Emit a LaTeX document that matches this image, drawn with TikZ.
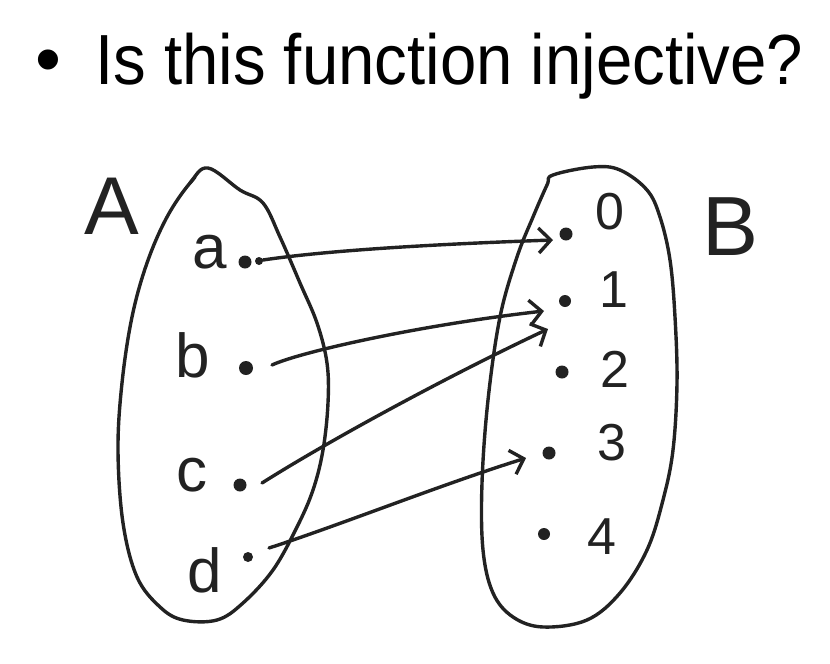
\documentclass[tikz,border=0pt]{standalone}
\usepackage{fontspec}
\setmainfont{Liberation Sans}
\usetikzlibrary{arrows.meta}
\definecolor{ink}{HTML}{222222}
\tikzset{
  ink line/.style={draw=ink, line width=3.4pt, line cap=round, line join=round},
  dotmark/.style={circle, fill=ink, inner sep=0pt, minimum size=#1},
  dotmark/.default=12pt,
  lbl/.style={text=ink, inner sep=0pt, font=\fontsize{#1}{#1}\selectfont},
  maparrow/.style={ink line, -{Straight Barb[length=12pt,width=25pt,line width=3.4pt]}},
}
\begin{document}
\begin{tikzpicture}[x=1pt,y=-1pt]
\useasboundingbox (0,0) rectangle (830,664);
% title
\node[anchor=base west, inner sep=0pt, font=\fontsize{74}{80}\selectfont] (bullet) at (35,84) {•};
\node[anchor=base west, inner sep=0pt, font=\fontsize{71}{80}\selectfont] (title) at (95,84)
  {\scalebox{0.92}[1]{Is this function injective?}};

% left set
\draw[ink line] plot[smooth cycle, tension=0.6] coordinates {
 (208,168) (240,190) (263,203) (280,237) (300,283) (317,323) (327,363) (328,403)
 (323,450) (313,490) (297,527) (273,570) (243,603) (217,620) (183,620) (160,607)
 (137,577) (123,523) (118,450) (122,383) (132,317) (147,263) (167,217) (190,183)};
\draw[ink line] (190,183) -- (195,177);
% right set
\draw[ink line] plot[smooth cycle, tension=0.6] coordinates {
 (553,175) (593,167) (620,170) (647,190) (660,217) (670,260) (675,317) (677,383)
 (673,450) (663,500) (647,550) (620,593) (587,620) (543,627) (513,617) (493,593)
 (483,550) (482,483) (488,400) (500,317) (517,257) (533,217) (547,185)};

% set names
\node[lbl=82] (A) at (112,206) {A};
\node[lbl=84] (B) at (731,227) {B};

% left elements
\node[lbl=62] (la) at (210,252) {a};
\node[lbl=62] (lb) at (193,355) {b};
\node[lbl=62] (lc) at (192,475) {c};
\node[lbl=62] (ld) at (205,570) {d};
\node[dotmark=13pt] (da) at (245,262) {};
\node[dotmark=8pt] (da2) at (259,261) {};
\node[dotmark=14pt] (db) at (246,368) {};
\node[dotmark=13pt] (dc) at (240,485) {};
\node[dotmark=10pt] (dd) at (248,557) {};

% right elements
\node[dotmark=13pt] (d0) at (566,234) {};
\node[dotmark=12pt] (d1) at (565,301) {};
\node[dotmark=13pt] (d2) at (562,372) {};
\node[dotmark=13pt] (d3) at (549,453) {};
\node[dotmark=12pt] (d4) at (544,534) {};
\node[lbl=52] (l0) at (610,212) {0};
\node[lbl=52] (l1) at (614,290) {1};
\node[lbl=52] (l2) at (615,369) {2};
\node[lbl=52] (l3) at (612,443) {3};
\node[lbl=52] (l4) at (602,537) {4};

% arrow end points
\coordinate (sa) at (263,260);
\coordinate (sb) at (272,365);
\coordinate (sc) at (262,483);
\coordinate (sd) at (269,548);
\coordinate (t0) at (553,240);
\coordinate (t1) at (544,311);
\coordinate (t1b) at (548,329);
\coordinate (t3) at (526,458);

\draw[maparrow] (sa) .. controls (330,250) and (440,244) .. (t0);
\draw[maparrow] (sb) .. controls (300,352) and (420,325) .. (t1);
\draw[maparrow] (sc) .. controls (330,440) and (450,375) .. (t1b);
\draw[maparrow] (sd) .. controls (340,525) and (440,485) .. (t3);
\end{tikzpicture}
\end{document}
